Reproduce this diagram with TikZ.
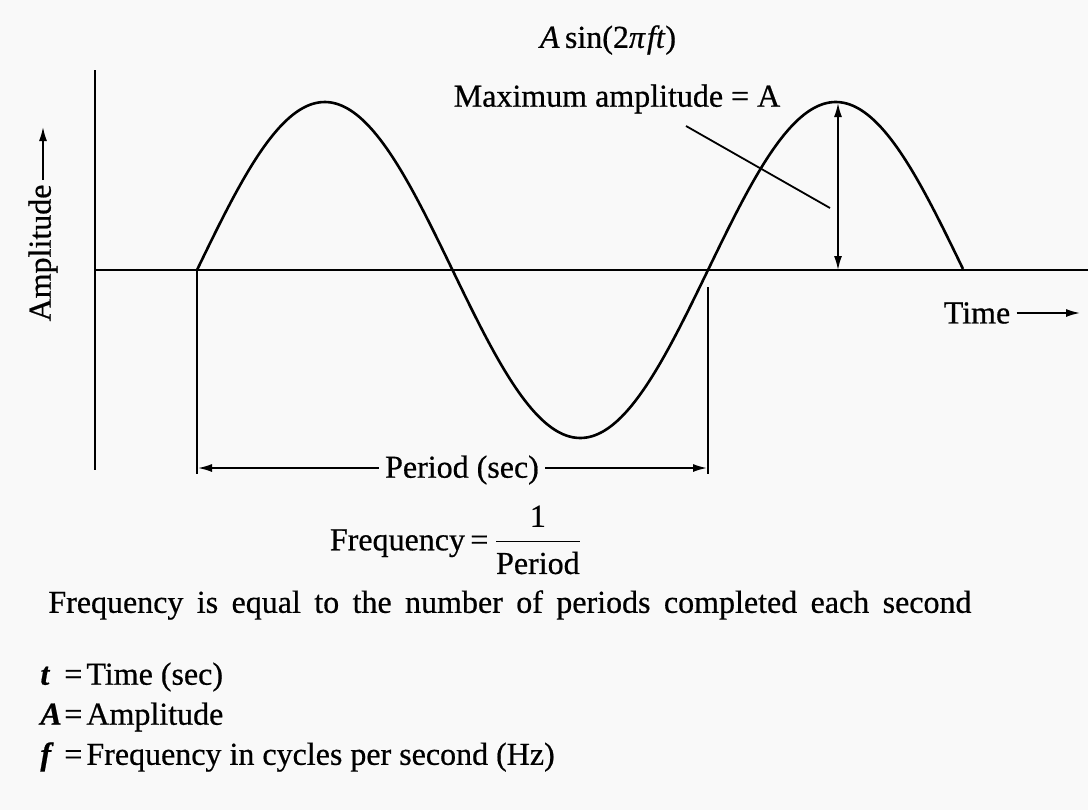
\documentclass[tikz,border=0pt]{standalone}
\usepackage{amsmath}
\usepackage{fontspec}
\setmainfont{Liberation Serif}[FakeBold=0.6]
\usetikzlibrary{arrows.meta}
\newcommand\defsym[1]{\makebox[12pt][l]{\textbf{\textit{#1}}}}
\begin{document}
\begin{tikzpicture}[x=0.5pt,y=-0.5pt,
    lbl/.style={font=\fontsize{16}{19}\selectfont, inner sep=0pt},
    wave/.style={line width=1.3pt},
    axis/.style={line width=0.9pt},
    dim/.style={line width=0.8pt, -{Latex[length=7pt,width=4pt]}},
    dimboth/.style={line width=0.8pt, {Latex[length=7pt,width=4pt]}-{Latex[length=7pt,width=4pt]}}]
    \fill[gray!5] (0,0) rectangle (1088,810);
    \useasboundingbox (0,0) rectangle (1088,810);
    % axes
    \coordinate (ytop) at (95,70);
    \coordinate (ybot) at (95,470);
    \coordinate (origin) at (95,270);
    \coordinate (xend) at (1088,270);
    \draw[axis] (ytop) -- (ybot);
    \draw[axis] (origin) -- (xend);
    % the wave, 1.5 periods
    \draw[wave,domain=197:963,samples=150,smooth] plot (\x,{270-168*sin((\x-197)/511*360)});
    \node[lbl] (formula) at (608,40) {\textit{A}\,sin(2\textit{π\kern1pt ft})};
    % maximum amplitude
    \node[lbl] (maxamp) at (617,99) {Maximum amplitude = A};
    \coordinate (peak) at (838,103);
    \coordinate (foot) at (838,270);
    \draw[dimboth] (peak) -- (foot);
    \coordinate (leadstart) at (686,126);
    \coordinate (leadend) at (830,208);
    \draw[axis] (leadstart) -- (leadend);
    % axis labels
    \node[lbl,rotate=90,inner sep=2pt] (amp) at (43,253) {Amplitude};
    \coordinate (amptip) at (43,127);
    \draw[dim] (amp.east) -- (amptip);
    \node[lbl,inner sep=3pt] (time) at (977,313) {Time};
    \coordinate (timetip) at (1080,313);
    \draw[dim] (time.east) -- (timetip);
    % period
    \coordinate (pa) at (197,270);
    \coordinate (pab) at (197,474);
    \coordinate (pb) at (708,287);
    \coordinate (pbb) at (708,474);
    \draw[axis] (pa) -- (pab);
    \draw[axis] (pb) -- (pbb);
    \node[lbl,inner sep=3pt] (period) at (462,470) {Period (sec)};
    \coordinate (pl) at (198,468);
    \coordinate (pr) at (707,468);
    \draw[dim] (period.west |- pl) -- (pl);
    \draw[dim] (period.east |- pr) -- (pr);
    \node[lbl] (freq) at (456,540) {Frequency\,=\,$\dfrac{\text{1}}{\text{Period}}$};
    % notes
    \node[lbl,anchor=west] (note) at (48,605) {\spaceskip=6.7pt Frequency is equal to the number of periods completed each second};
    \node[lbl,anchor=west] (deft) at (40,677) {\defsym{t}=\kern2pt Time (sec)};
    \node[lbl,anchor=west] (defa) at (40,717) {\defsym{A}=\kern2pt Amplitude};
    \node[lbl,anchor=west] (deff) at (40,757) {\defsym{f}=\kern2pt Frequency in cycles per second (Hz)};
\end{tikzpicture}
\end{document}
